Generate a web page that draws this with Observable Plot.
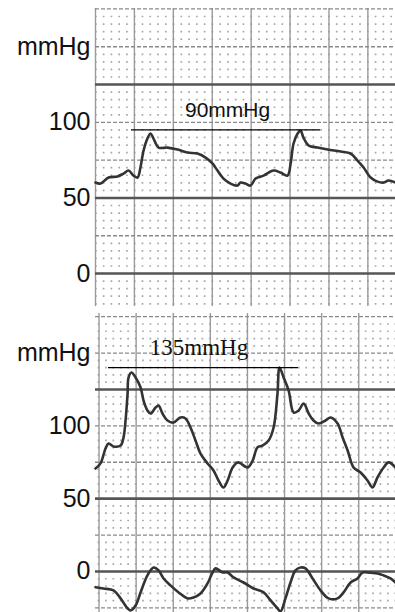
<!DOCTYPE html>
<html>
<head>
<meta charset="utf-8">
<script src="https://cdn.jsdelivr.net/npm/d3@7"></script>
<script src="https://cdn.jsdelivr.net/npm/@observablehq/plot@0.6"></script>
<style>
  html, body { margin: 0; padding: 0; background: #fff; }
  #chart svg { display: block; }
</style>
</head>
<body>
<div id="chart"></div>
<script>
// ---------- data (time in s, pressure in mmHg) ----------
const topTime = [0,0.026,0.067,0.113,0.144,0.170,0.195,0.216,0.231,0.247,0.267,0.283,0.298,0.324,0.370,0.422,0.473,0.524,0.566,0.601,0.627,0.658,0.694,0.730,0.745,0.771,0.797,0.823,0.864,0.915,0.951,0.987,1.003,1.018,1.039,1.054,1.069,1.095,1.141,1.193,1.260,1.311,1.347,1.378,1.414,1.450,1.481,1.506,1.542];
const topPressure = [60.2,59.5,63.5,64.2,66.1,68.1,64.8,63.5,70.1,81.3,89.3,92.6,89.3,83.3,83.3,82.0,80.0,79.4,76.7,72.8,68.1,62.8,59.5,58.2,60.2,59.5,58.2,62.8,64.8,68.1,66.8,64.8,72.8,86.0,92.6,94.6,89.9,84.7,83.3,82.0,80.7,79.4,74.7,70.1,63.5,60.8,60.2,61.5,60.2];

const bottomTime = [-0.019,0.008,0.035,0.051,0.078,0.116,0.132,0.143,0.154,0.159,0.175,0.197,0.224,0.240,0.261,0.278,0.305,0.321,0.342,0.369,0.402,0.439,0.466,0.493,0.520,0.547,0.585,0.617,0.644,0.671,0.693,0.720,0.747,0.763,0.801,0.828,0.854,0.881,0.914,0.941,0.962,0.973,0.995,1.022,1.049,1.076,1.103,1.130,1.156,1.183,1.221,1.248,1.286,1.313,1.340,1.372,1.410,1.447,1.474,1.501,1.534,1.561,1.598];
const bottomPressure = [70.7,74.2,84.5,87.9,85.9,86.5,92.0,103.7,122.3,133.2,136.7,133.2,126.4,117.4,110.6,108.5,112.6,114.0,108.5,103.7,102.3,105.8,105.1,98.9,90.0,81.0,74.2,69.4,62.5,57.7,62.5,71.4,74.9,74.2,71.4,76.2,85.2,86.5,90.0,98.9,122.3,140.1,133.2,124.3,109.2,110.6,115.4,108.5,103.7,101.6,103.7,105.8,101.6,92.0,83.1,71.4,68.0,62.5,57.7,64.6,71.4,74.9,71.4];

const lowerTime = [-0.019,0.024,0.078,0.116,0.154,0.170,0.197,0.224,0.261,0.294,0.321,0.348,0.385,0.429,0.477,0.509,0.547,0.585,0.612,0.628,0.666,0.693,0.725,0.779,0.833,0.887,0.925,0.962,0.978,1.005,1.032,1.059,1.086,1.113,1.151,1.194,1.237,1.286,1.318,1.356,1.393,1.420,1.447,1.501,1.534,1.571,1.598];
const lowerPressure = [-10.8,-11.7,-13.0,-18.5,-25.4,-26.8,-23.4,-14.4,-2.7,2.7,0.7,-4.8,-9.6,-14.4,-18.5,-17.9,-15.1,-8.2,-0.7,2.1,-0.7,-0.7,-4.1,-7.6,-11.7,-14.4,-19.9,-25.4,-27.5,-18.5,-7.6,0.7,2.7,2.1,-4.8,-13.0,-18.5,-18.5,-14.4,-7.6,-4.8,-0.7,-0.7,-1.4,-2.7,-4.8,-7.6];

// reference lines and labels
const refLabels = ["90mmHg", "135mmHg"];
const refValues = [95, 140];
const refStart = [0.185, 0.051];
const refEnd = [1.157, 1.075];
const refLabelTime = [0.679, 0.539];
const refLabelValue = [103.8, 148.4];

// axis ticks
const yTickValues = [0, 50, 100, 150];
const yTickLabels = ["0", "50", "100", "mmHg"];
const thickLines = [0, 50, 125];

// ---------- drawing ----------
const toRows = (xs, ys) => xs.map((x, i) => ({t: x, p: ys[i]}));

function panel({height, marginTop, marginBottom, xDomain, yDomain, traces, ref, minorPx, dashOffset, refFont, refSize}) {
  const majorY = d3.range(-25, 176, 25).filter(v => v >= yDomain[0] && v <= yDomain[1] && !thickLines.includes(v));
  const minorY = d3.range(-25, 176, 5).filter(v => v % 25 !== 0 && v >= yDomain[0] && v <= yDomain[1]);
  const majorX = d3.range(0, 1.5, 0.2).filter(v => v >= xDomain[0] && v <= xDomain[1]);
  return Plot.plot({
    width: 395,
    height,
    marginLeft: 95,
    marginRight: 0,
    marginTop,
    marginBottom,
    x: {domain: xDomain, axis: null},
    y: {domain: yDomain, axis: null},
    style: {fontFamily: "'Liberation Sans', Arial, sans-serif", background: "#fff", overflow: "visible"},
    marks: [
      Plot.ruleY(minorY, {stroke: "#a8a8a8", strokeWidth: 1.7, strokeDasharray: `1.7,${(minorPx - 1.7).toFixed(2)}`, strokeDashoffset: dashOffset}),
      Plot.ruleX(majorX, {stroke: "#9a9a9a", strokeWidth: 1.4}),
      Plot.ruleY(majorY, {stroke: "#8a8a8a", strokeWidth: 1.3, strokeDasharray: "4,2"}),
      Plot.ruleY(thickLines, {stroke: "#555", strokeWidth: 2.6}),
      Plot.axisY({ticks: yTickValues, tickFormat: d => yTickLabels[yTickValues.indexOf(d)], tickSize: 0, tickPadding: 5, fontSize: 25, fill: "#111", label: null}),
      ...traces.map(data => Plot.line(data, {x: "t", y: "p", stroke: "#333", strokeWidth: 2.6, curve: "catmull-rom", strokeLinejoin: "round"})),
      Plot.ruleY([ref], {y: "value", x1: "start", x2: "end", stroke: "#000", strokeWidth: 1.2}),
      Plot.text([ref], {x: "lt", y: "lv", text: "label", lineAnchor: "bottom", fontSize: refSize, fontFamily: refFont, fill: "#111"})
    ]
  });
}

const refRow = i => ({label: refLabels[i], value: refValues[i], start: refStart[i], end: refEnd[i], lt: refLabelTime[i], lv: refLabelValue[i]});

const topPanel = panel({
  height: 309, marginTop: 8, marginBottom: 3,
  xDomain: [0, 1.542], yDomain: [-21.8, 175.3],
  traces: [toRows(topTime, topPressure)],
  ref: refRow(0), minorPx: 7.77, dashOffset: 0,
  refFont: "'Liberation Sans', Arial, sans-serif", refSize: 21
});
const bottomPanel = panel({
  height: 303, marginTop: 4, marginBottom: 0,
  xDomain: [-0.019, 1.598], yDomain: [-28.2, 177.2],
  traces: [toRows(bottomTime, bottomPressure), toRows(lowerTime, lowerPressure)],
  ref: refRow(1), minorPx: 7.42, dashOffset: 4.8,
  refFont: "'Liberation Serif', 'Times New Roman', serif", refSize: 23
});
document.getElementById("chart").append(topPanel, bottomPanel);
</script>
</body>
</html>
